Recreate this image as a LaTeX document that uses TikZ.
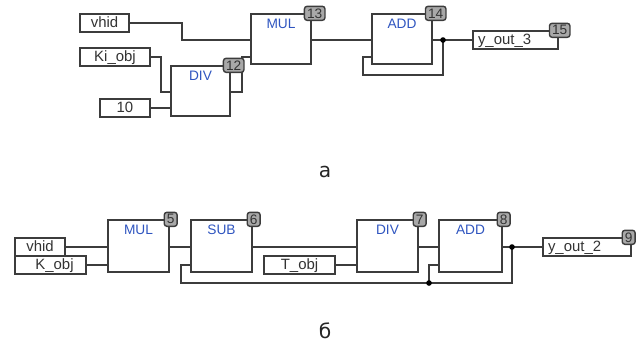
\documentclass[tikz,border=0pt]{standalone}
\usepackage{fontspec}
\setmainfont{Liberation Sans}
\newfontfamily\capfont{DejaVu Sans}
\usepackage{tikz}
\definecolor{wirecol}{HTML}{3C3C3C}
\definecolor{namecol}{HTML}{2F55C0}
\definecolor{tagcol}{HTML}{A8A8A8}
\tikzset{
	block/.style={draw=wirecol, fill=white, line width=0.8pt, minimum width=60*0.02cm, minimum height=50*0.02cm, inner sep=0pt},
	blockname/.style={text=namecol, font=\fontsize{7.8}{9}\selectfont, inner sep=0pt, yshift=-5*0.02cm},
	tagbox/.style={draw=wirecol, fill=tagcol, rounded corners=1.5pt, line width=0.8pt, minimum height=14*0.02cm, inner xsep=1.5pt, inner ysep=0pt, font=\fontsize{7.8}{9}\selectfont, text=black!80},
	varbox/.style={draw=wirecol, fill=white, line width=0.8pt, minimum height=18*0.02cm, inner sep=0pt, text height=6.5pt, text depth=1.4pt, font=\fontsize{8.5}{9}\selectfont, text=black!80},
	wire/.style={draw=wirecol, line width=0.8pt},
	capnode/.style={font=\capfont\fontsize{11.5}{12}\selectfont, text=black!85, inner sep=0pt, anchor=base},
	jointdot/.style={fill=black, circle, inner sep=0pt, minimum size=3.2pt},
}
\begin{document}
\begin{tikzpicture}[x=0.02cm, y=-0.02cm]
	\useasboundingbox (0,0) rectangle (638,343);
	% upper circuit
	\node[varbox, minimum width=49*0.02cm] (vhidA) at (104.5,23) {vhid};
	\node[varbox, minimum width=70*0.02cm] (kiA) at (115,57) {Ki\_obj};
	\node[varbox, minimum width=50*0.02cm] (tenA) at (125,108) {10};
	\node[block, minimum width=59*0.02cm] (divA) at (200.5,91) {};
	\node[block] (mulA) at (281,39) {};
	\node[block] (addA) at (402,39) {};
	\node[varbox, minimum width=85*0.02cm, text width=75*0.02cm] (outA) at (515.5,40) {y\_out\_3};
	\node[blockname, below] at (divA.north) {DIV};
	\node[blockname, below] at (mulA.north) {MUL};
	\node[blockname, below] at (addA.north) {ADD};
	\coordinate (vhidAbend) at (182,40);
	\coordinate (kiAbend) at (161,92);
	\coordinate (divAback) at (242,92);
	\coordinate (mulAin) at (251,57);
	\coordinate (addAback) at (363,75);
	\coordinate (addAin) at (372,57);
	\coordinate (jointA) at (443,40);
	\draw[wire] (vhidA.east) -| (vhidAbend) -- (vhidAbend -| mulA.west);
	\draw[wire] (kiA.east) -| (kiAbend) -- (kiAbend -| divA.west);
	\draw[wire] (tenA.east) -- (tenA.east -| divA.west);
	\draw[wire] (divAback -| divA.east) -- (divAback) |- (mulAin);
	\draw[wire] (mulA.east |- vhidAbend) -- (addA.west |- vhidAbend);
	\draw[wire] (addA.east |- jointA) -- (outA.west |- jointA);
	\draw[wire] (jointA) |- (addAback) |- (addAin);
	\node[jointdot] (dotA) at (jointA) {};
	\node[tagbox, xshift=3*0.02cm] (tagDivA) at (divA.north east) {12};
	\node[tagbox, xshift=3*0.02cm] (tagMulA) at (mulA.north east) {13};
	\node[tagbox, xshift=3*0.02cm] (tagAddA) at (addA.north east) {14};
	\node[tagbox, xshift=1*0.02cm] (tagOutA) at (outA.north east) {15};
	\node[capnode] (capA) at (325,177) {а};
	% lower circuit
	\node[varbox, minimum width=50*0.02cm] (vhidB) at (40,247) {vhid};
	\node[varbox, minimum width=71*0.02cm] (kB) at (50.5,265) {\hspace*{0.16cm}K\_obj};
	\node[block, minimum width=61*0.02cm, minimum height=52*0.02cm] (mulB) at (138.5,246) {};
	\node[block, minimum width=61*0.02cm, minimum height=52*0.02cm] (subB) at (221.5,246) {};
	\node[varbox, minimum width=71*0.02cm] (tB) at (299.5,265) {T\_obj};
	\node[block, minimum width=61*0.02cm, minimum height=52*0.02cm] (divB) at (387.5,246) {};
	\node[block, minimum width=63*0.02cm, minimum height=52*0.02cm] (addB) at (470.5,246) {};
	\node[varbox, minimum width=88*0.02cm, text width=78*0.02cm] (outB) at (587,247) {y\_out\_2};
	\node[blockname, below] at (mulB.north) {MUL};
	\node[blockname, below] at (subB.north) {SUB};
	\node[blockname, below] at (divB.north) {DIV};
	\node[blockname, below] at (addB.north) {ADD};
	\coordinate (jointB) at (512,247);
	\coordinate (jointC) at (429,283);
	\coordinate (subBback) at (181,283);
	\coordinate (subBin) at (191,265);
	\coordinate (addBin) at (439,265);
	\draw[wire] (vhidB.east) -- (vhidB.east -| mulB.west);
	\draw[wire] (kB.east) -- (kB.east -| mulB.west);
	\draw[wire] (mulB.east |- jointB) -- (subB.west |- jointB);
	\draw[wire] (subB.east |- jointB) -- (divB.west |- jointB);
	\draw[wire] (tB.east) -- (tB.east -| divB.west);
	\draw[wire] (divB.east |- jointB) -- (addB.west |- jointB);
	\draw[wire] (addB.east |- jointB) -- (outB.west |- jointB);
	\draw[wire] (jointB) |- (subBback) |- (subBin);
	\draw[wire] (jointC) |- (addBin);
	\node[jointdot] (dotB) at (jointB) {};
	\node[jointdot] (dotC) at (jointC) {};
	\node[tagbox, xshift=1*0.02cm] (tagMulB) at (mulB.north east) {5};
	\node[tagbox, xshift=1*0.02cm] (tagSubB) at (subB.north east) {6};
	\node[tagbox, xshift=1*0.02cm] (tagDivB) at (divB.north east) {7};
	\node[tagbox, xshift=1*0.02cm] (tagAddB) at (addB.north east) {8};
	\node[tagbox, xshift=-3*0.02cm] (tagOutB) at (outB.north east) {9};
	\node[capnode] (capB) at (325,338) {б};
\end{tikzpicture}
\end{document}
